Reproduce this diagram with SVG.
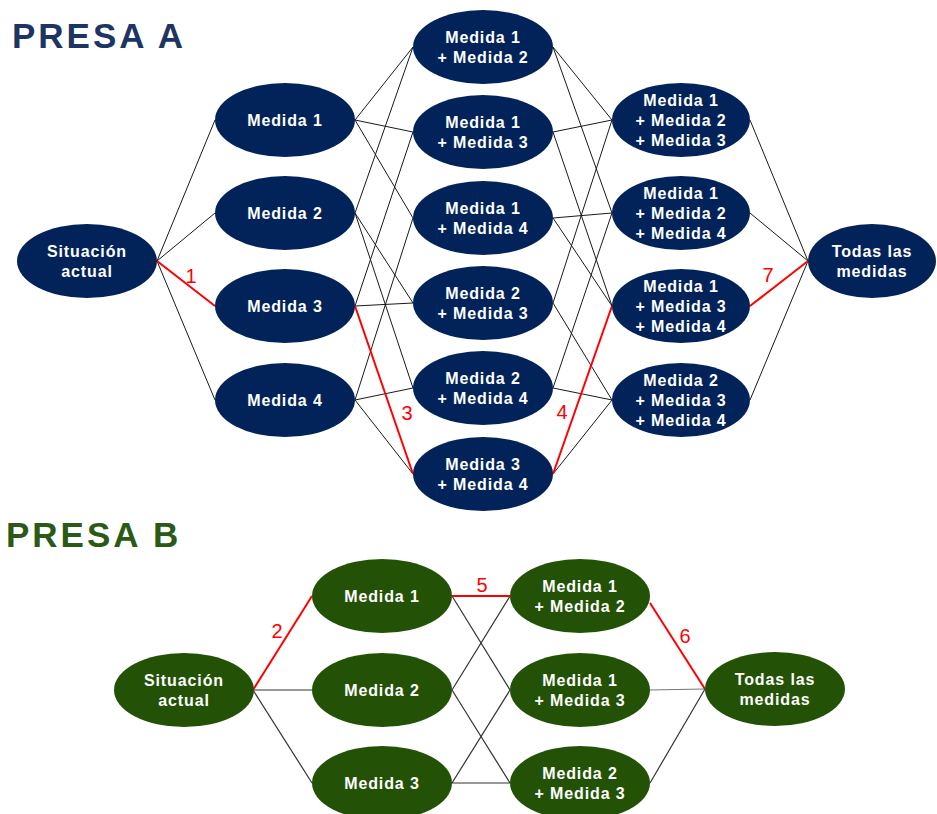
<svg xmlns="http://www.w3.org/2000/svg" width="937" height="814" viewBox="0 0 937 814">
<style>
.bg{fill:#ffffff}
.title{font-family:"Liberation Sans",Arial,sans-serif;font-weight:bold;font-size:35px;letter-spacing:3px}
.ta{fill:#1c3563}
.tb{fill:#2a5a16}
.na{fill:#022359}
.nb{fill:#235206}
.lbl{font-family:"Liberation Sans",Arial,sans-serif;font-weight:bold;font-size:16px;letter-spacing:0.9px;fill:#ffffff;text-anchor:middle}
.e{stroke:#1a1a1a;stroke-width:1;fill:none}
.eb{stroke:#333333;stroke-width:1.2;fill:none}
.r{stroke:#ff0000;stroke-width:2;fill:none}
.num{font-family:"Liberation Sans",Arial,sans-serif;font-size:20px;fill:#ff0000;text-anchor:middle}
</style>
<rect class="bg" x="0" y="0" width="937" height="814"/>
<text class="title ta" x="12" y="48">PRESA A</text>
<text class="title tb" x="6" y="547">PRESA B</text>

<g id="connectors-a">
  <line class="e" x1="157" y1="261" x2="215" y2="120"/>
  <line class="e" x1="157" y1="261" x2="215" y2="213"/>
  <line class="e" x1="157" y1="261" x2="215" y2="400"/>
  <line class="e" x1="355" y1="120" x2="413" y2="47"/>
  <line class="e" x1="355" y1="120" x2="413" y2="132"/>
  <line class="e" x1="355" y1="120" x2="413" y2="218"/>
  <line class="e" x1="355" y1="213" x2="413" y2="47"/>
  <line class="e" x1="355" y1="213" x2="413" y2="303"/>
  <line class="e" x1="355" y1="213" x2="413" y2="388"/>
  <line class="e" x1="355" y1="306" x2="413" y2="132"/>
  <line class="e" x1="355" y1="306" x2="413" y2="303"/>
  <line class="e" x1="355" y1="400" x2="413" y2="218"/>
  <line class="e" x1="355" y1="400" x2="413" y2="388"/>
  <line class="e" x1="355" y1="400" x2="413" y2="474"/>
  <line class="e" x1="553" y1="47" x2="612" y2="120"/>
  <line class="e" x1="553" y1="47" x2="612" y2="213"/>
  <line class="e" x1="553" y1="132" x2="612" y2="120"/>
  <line class="e" x1="553" y1="132" x2="612" y2="306"/>
  <line class="e" x1="553" y1="218" x2="612" y2="213"/>
  <line class="e" x1="553" y1="218" x2="612" y2="306"/>
  <line class="e" x1="553" y1="303" x2="612" y2="120"/>
  <line class="e" x1="553" y1="303" x2="612" y2="400"/>
  <line class="e" x1="553" y1="388" x2="612" y2="213"/>
  <line class="e" x1="553" y1="388" x2="612" y2="400"/>
  <line class="e" x1="553" y1="474" x2="612" y2="400"/>
  <line class="e" x1="750" y1="120" x2="808" y2="261"/>
  <line class="e" x1="750" y1="213" x2="808" y2="261"/>
  <line class="e" x1="750" y1="400" x2="808" y2="261"/>
  <line class="r" x1="157" y1="261" x2="215" y2="306"/>
  <line class="r" x1="355" y1="306" x2="413" y2="474"/>
  <line class="r" x1="553" y1="474" x2="612" y2="306"/>
  <line class="r" x1="750" y1="306" x2="808" y2="261"/>
  <text class="num" x="191" y="283">1</text>
  <text class="num" x="407" y="420">3</text>
  <text class="num" x="562" y="419">4</text>
  <text class="num" x="768" y="282">7</text>
</g>

<g id="connectors-b">
  <line class="eb" x1="253" y1="690" x2="312" y2="690"/>
  <line class="eb" x1="253" y1="690" x2="312" y2="783"/>
  <line class="eb" x1="452" y1="596" x2="510" y2="690"/>
  <line class="eb" x1="452" y1="690" x2="510" y2="596"/>
  <line class="eb" x1="452" y1="690" x2="510" y2="783"/>
  <line class="eb" x1="452" y1="783" x2="510" y2="690"/>
  <line class="eb" x1="452" y1="783" x2="510" y2="783"/>
  <line class="eb" x1="650" y1="690" x2="705" y2="689" style="stroke:#777"/>
  <line class="eb" x1="650" y1="783" x2="705" y2="689"/>
  <line class="r" x1="253" y1="690" x2="312" y2="596"/>
  <line class="r" x1="452" y1="596" x2="510" y2="596"/>
  <line class="r" x1="650" y1="603" x2="705" y2="689"/>
  <text class="num" x="277" y="638">2</text>
  <text class="num" x="482" y="592">5</text>
  <text class="num" x="685" y="643">6</text>
</g>

<g id="a-situacion"><ellipse class="na" cx="87" cy="261" rx="70" ry="37"/><text class="lbl" x="87" y="257">Situación</text><text class="lbl" x="87" y="277">actual</text></g>
<g id="a-m1"><ellipse class="na" cx="285" cy="120" rx="70" ry="37"/><text class="lbl" x="285" y="126">Medida 1</text></g>
<g id="a-m2"><ellipse class="na" cx="285" cy="213" rx="70" ry="37"/><text class="lbl" x="285" y="219">Medida 2</text></g>
<g id="a-m3"><ellipse class="na" cx="285" cy="306" rx="70" ry="37"/><text class="lbl" x="285" y="312">Medida 3</text></g>
<g id="a-m4"><ellipse class="na" cx="285" cy="400" rx="70" ry="37"/><text class="lbl" x="285" y="406">Medida 4</text></g>

<g id="a-m12"><ellipse class="na" cx="483" cy="47" rx="70" ry="37"/><text class="lbl" x="483" y="43">Medida 1</text><text class="lbl" x="483" y="63">+ Medida 2</text></g>
<g id="a-m13"><ellipse class="na" cx="483" cy="132" rx="70" ry="37"/><text class="lbl" x="483" y="128">Medida 1</text><text class="lbl" x="483" y="148">+ Medida 3</text></g>
<g id="a-m14"><ellipse class="na" cx="483" cy="218" rx="70" ry="37"/><text class="lbl" x="483" y="214">Medida 1</text><text class="lbl" x="483" y="234">+ Medida 4</text></g>
<g id="a-m23"><ellipse class="na" cx="483" cy="303" rx="70" ry="37"/><text class="lbl" x="483" y="299">Medida 2</text><text class="lbl" x="483" y="319">+ Medida 3</text></g>
<g id="a-m24"><ellipse class="na" cx="483" cy="388" rx="70" ry="37"/><text class="lbl" x="483" y="384">Medida 2</text><text class="lbl" x="483" y="404">+ Medida 4</text></g>
<g id="a-m34"><ellipse class="na" cx="483" cy="474" rx="70" ry="37"/><text class="lbl" x="483" y="470">Medida 3</text><text class="lbl" x="483" y="490">+ Medida 4</text></g>

<g id="a-m123"><ellipse class="na" cx="681" cy="120" rx="69" ry="37"/><text class="lbl" x="681" y="106">Medida 1</text><text class="lbl" x="681" y="126">+ Medida 2</text><text class="lbl" x="681" y="146">+ Medida 3</text></g>
<g id="a-m124"><ellipse class="na" cx="681" cy="213" rx="69" ry="37"/><text class="lbl" x="681" y="199">Medida 1</text><text class="lbl" x="681" y="219">+ Medida 2</text><text class="lbl" x="681" y="239">+ Medida 4</text></g>
<g id="a-m134"><ellipse class="na" cx="681" cy="306" rx="69" ry="37"/><text class="lbl" x="681" y="292">Medida 1</text><text class="lbl" x="681" y="312">+ Medida 3</text><text class="lbl" x="681" y="332">+ Medida 4</text></g>
<g id="a-m234"><ellipse class="na" cx="681" cy="400" rx="69" ry="37"/><text class="lbl" x="681" y="386">Medida 2</text><text class="lbl" x="681" y="406">+ Medida 3</text><text class="lbl" x="681" y="426">+ Medida 4</text></g>

<g id="a-todas"><ellipse class="na" cx="872" cy="261" rx="64" ry="37"/><text class="lbl" x="872" y="257">Todas las</text><text class="lbl" x="872" y="277">medidas</text></g>

<g id="b-situacion"><ellipse class="nb" cx="184" cy="690" rx="70" ry="37"/><text class="lbl" x="184" y="686">Situación</text><text class="lbl" x="184" y="706">actual</text></g>
<g id="b-m1"><ellipse class="nb" cx="382" cy="596" rx="70" ry="37"/><text class="lbl" x="382" y="602">Medida 1</text></g>
<g id="b-m2"><ellipse class="nb" cx="382" cy="690" rx="70" ry="37"/><text class="lbl" x="382" y="696">Medida 2</text></g>
<g id="b-m3"><ellipse class="nb" cx="382" cy="783" rx="70" ry="37"/><text class="lbl" x="382" y="789">Medida 3</text></g>
<g id="b-m12"><ellipse class="nb" cx="580" cy="596" rx="70" ry="37"/><text class="lbl" x="580" y="592">Medida 1</text><text class="lbl" x="580" y="612">+ Medida 2</text></g>
<g id="b-m13"><ellipse class="nb" cx="580" cy="690" rx="70" ry="37"/><text class="lbl" x="580" y="686">Medida 1</text><text class="lbl" x="580" y="706">+ Medida 3</text></g>
<g id="b-m23"><ellipse class="nb" cx="580" cy="783" rx="70" ry="37"/><text class="lbl" x="580" y="779">Medida 2</text><text class="lbl" x="580" y="799">+ Medida 3</text></g>
<g id="b-todas"><ellipse class="nb" cx="775" cy="689" rx="70" ry="37"/><text class="lbl" x="775" y="685">Todas las</text><text class="lbl" x="775" y="705">medidas</text></g>
</svg>
